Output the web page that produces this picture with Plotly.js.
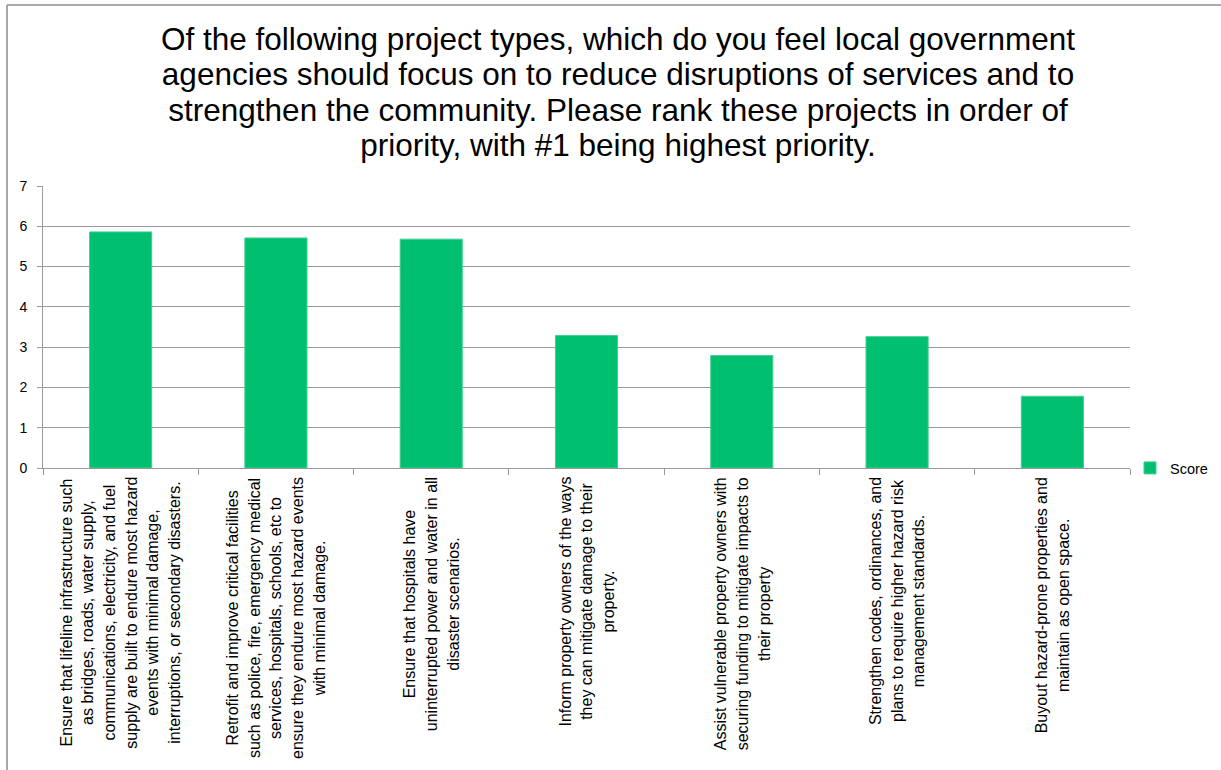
<!DOCTYPE html>
<html>
<head>
<meta charset="utf-8">
<script src="https://cdn.plot.ly/plotly-3.0.1.min.js"></script>
<style>
  html, body { margin: 0; padding: 0; background: #ffffff; }
  #chart { width: 1221px; height: 770px; }
</style>
</head>
<body>
<div id="chart"></div>
<script>
// ---- Data ----
var categories = [
  "Ensure that lifeline infrastructure such<br>as bridges, roads, water supply,<br>communications, electricity, and fuel<br>supply are built to endure most hazard<br>events with minimal damage,<br>interruptions, or secondary disasters.",
  "Retrofit and improve critical facilities<br>such as police, fire, emergency medical<br>services, hospitals, schools, etc to<br>ensure they endure most hazard events<br>with minimal damage.",
  "Ensure that hospitals have<br>uninterrupted power and water in all<br>disaster scenarios.",
  "Inform property owners of the ways<br>they can mitigate damage to their<br>property.",
  "Assist vulnerable property owners with<br>securing funding to mitigate impacts to<br>their property",
  "Strengthen codes, ordinances, and<br>plans to require higher hazard risk<br>management standards.",
  "Buyout hazard-prone properties and<br>maintain as open space."
];
var scores = [5.86, 5.71, 5.68, 3.29, 2.79, 3.26, 1.78];
var seriesName = "Score";
var titleLines = [
  "Of the following project types, which do you feel local government",
  "agencies should focus on to reduce disruptions of services and to",
  "strengthen the community. Please rank these projects in order of",
  "priority, with #1 being highest priority."
];
var yTicks = [0, 1, 2, 3, 4, 5, 6, 7];

// ---- Layout constants ----
var W = 1221, H = 770;
var M = { l: 43, r: 91, t: 186, b: 302 };
var plotW = W - M.l - M.r, plotH = H - M.t - M.b;
function px2paperX(px) { return (px - M.l) / plotW; }
function px2paperY(py) { return (H - M.b - py) / plotH; }

var green = "#00BF6F";
var gridColor = "#9a9a9a";
var labelFont = "Liberation Sans, Arial, sans-serif";

function sized(lines, sz) {
  return lines.map(function (l) {
    return '<span style="font-size:' + sz + 'px">' + l + '</span>';
  }).join("<br>");
}

var trace = {
  type: "bar",
  x: categories,
  y: scores,
  name: seriesName,
  width: 0.4,
  marker: { color: green, line: { color: "#3fd08f", width: 1 } },
  showlegend: true,
  hoverinfo: "y"
};

var annotations = categories.map(function (c) {
  return {
    x: c, xref: "x",
    y: 0, yref: "paper",
    yanchor: "top", xanchor: "center",
    yshift: -7,
    textangle: -90,
    align: "center",
    showarrow: false,
    text: sized(c.split("<br>"), 16),
    font: { family: labelFont, size: 16.7, color: "#000000" }
  };
});

var shapes = [
  { type: "line", xref: "paper", yref: "paper",
    x0: px2paperX(7), x1: px2paperX(7), y0: px2paperY(5), y1: px2paperY(H + 5),
    line: { color: "#8c8c8c", width: 1.5 } },
  { type: "line", xref: "paper", yref: "paper",
    x0: px2paperX(7), x1: px2paperX(W + 5), y0: px2paperY(5), y1: px2paperY(5),
    line: { color: "#8c8c8c", width: 1.5 } }
];

var layout = {
  width: W, height: H,
  margin: { l: M.l, r: M.r, t: M.t, b: M.b, pad: 0, autoexpand: false },
  paper_bgcolor: "#ffffff",
  plot_bgcolor: "#ffffff",
  font: { family: labelFont, color: "#000000" },
  title: {
    text: sized(titleLines, 31.5),
    x: 618 / W, xref: "container", xanchor: "center",
    y: 1 - 50 / H, yref: "container", yanchor: "top",
    font: { family: labelFont, size: 27.3, color: "#000000" }
  },
  xaxis: {
    type: "category",
    showticklabels: false,
    tickson: "boundaries",
    ticks: "outside", ticklen: 6, tickcolor: gridColor, tickwidth: 1,
    showline: true, linecolor: gridColor, linewidth: 1,
    showgrid: false,
    zeroline: false,
    fixedrange: true
  },
  yaxis: {
    range: [0, 7],
    tickvals: yTicks,
    ticktext: yTicks.map(function (v) { return String(v) + "\u2002"; }),
    ticks: "outside", ticklen: 5, tickcolor: gridColor, tickwidth: 1,
    showline: true, linecolor: gridColor, linewidth: 1,
    showgrid: true, gridcolor: gridColor, gridwidth: 1,
    zeroline: false,
    tickfont: { family: labelFont, size: 14, color: "#000000" },
    fixedrange: true
  },
  showlegend: true,
  legend: {
    x: 1.0, xanchor: "left",
    y: 0, yanchor: "middle",
    font: { family: labelFont, size: 14.5, color: "#000000" },
    bgcolor: "rgba(0,0,0,0)",
    itemwidth: 30
  },
  bargap: 0.6,
  annotations: annotations,
  shapes: shapes
};

Plotly.newPlot("chart", [trace], layout, { displayModeBar: false, staticPlot: true });
</script>
</body>
</html>
